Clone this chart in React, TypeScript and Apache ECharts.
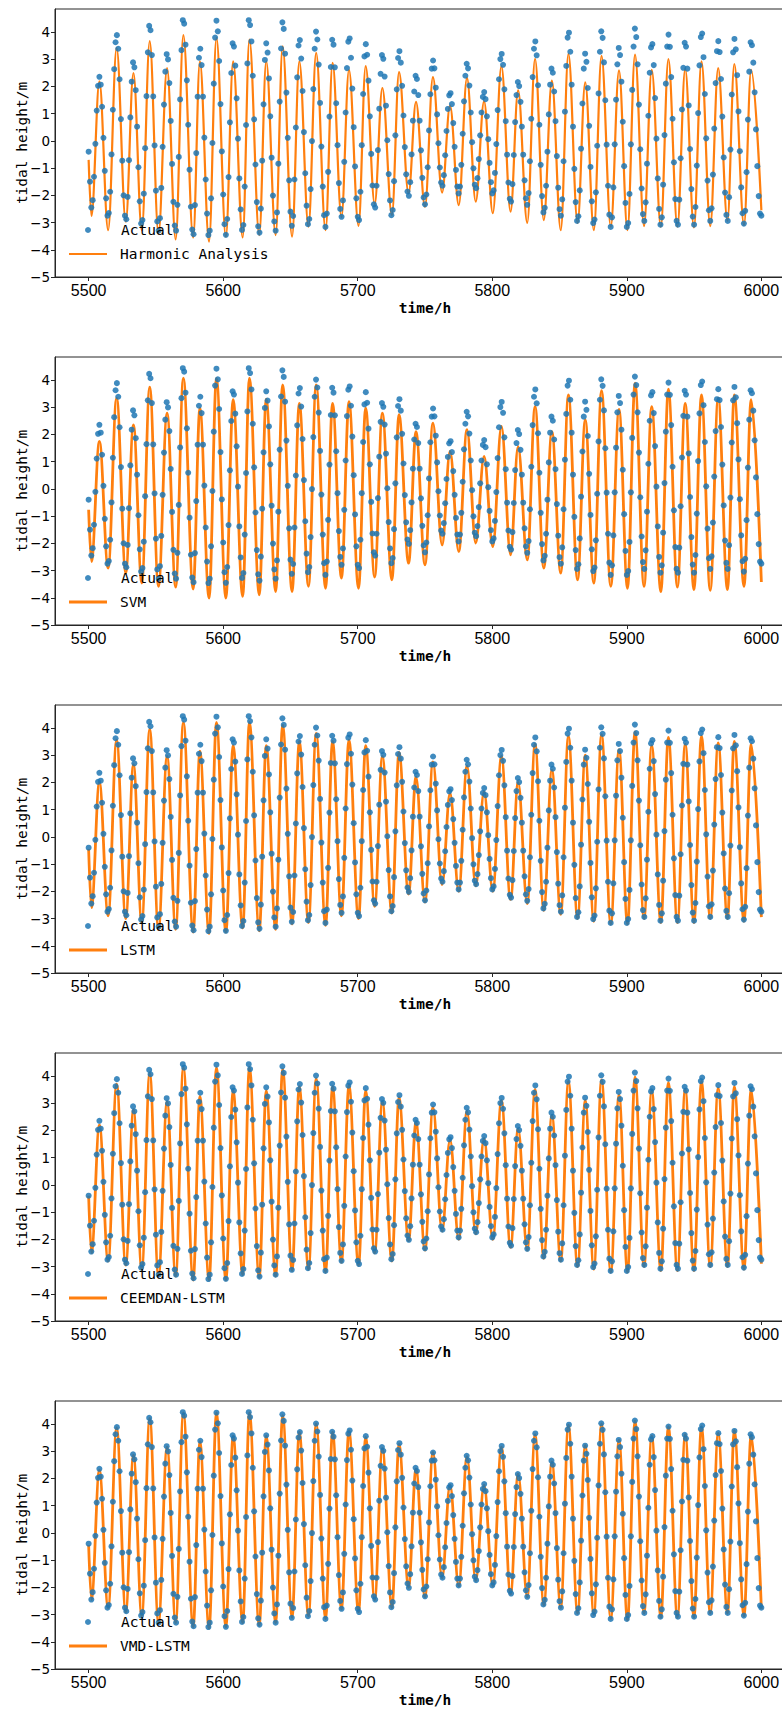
import React, { useEffect, useRef } from "react";
import * as echarts from "echarts";

// ---------- data ----------
const startHour = 5500;
const xTicks = [5500, 5600, 5700, 5800, 5900, 6000];
const yTicks = [-5, -4, -3, -2, -1, 0, 1, 2, 3, 4];

// Actual tidal height, hourly from 5500 h to 6000 h (m)
const actual = [
  -0.40, -1.50, -2.45, -2.18, -1.32, -0.11, 1.11, 2.02, 2.35, 2.06,
  1.25, 0.11, -1.10, -2.11, -2.75, -2.65, -1.87, -0.50, 1.14, 2.63,
  3.62, 3.88, 3.38, 2.26, 0.80, -0.73, -2.00, -2.75, -2.88, -2.06,
  -0.71, 0.86, 2.17, 2.88, 2.70, 1.86, 0.52, -0.97, -2.22, -3.04,
  -2.91, -1.94, -0.27, 1.64, 3.25, 4.22, 4.06, 3.15, 1.63, -0.17,
  -1.83, -2.96, -3.30, -2.84, -1.73, -0.22, 1.33, 2.54, 3.18, 2.99,
  2.12, 0.73, -0.85, -2.24, -3.11, -3.30, -2.35, -0.59, 1.52, 3.33,
  4.43, 4.30, 3.53, 2.22, 0.59, -1.06, -2.42, -3.26, -3.43, -2.36,
  -0.45, 1.62, 3.05, 3.38, 2.78, 1.62, 0.12, -1.42, -2.67, -3.46,
  -3.30, -2.11, -0.08, 2.10, 3.79, 4.41, 4.02, 2.93, 1.35, -0.39,
  -1.97, -3.06, -3.45, -2.87, -1.33, 0.68, 2.49, 3.58, 3.46, 2.76,
  1.56, 0.08, -1.38, -2.52, -3.27, -3.09, -1.68, 0.58, 2.84, 4.43,
  4.25, 3.65, 2.39, 0.79, -0.87, -2.25, -3.14, -3.37, -2.49, -0.73,
  1.34, 2.97, 3.58, 3.24, 2.29, 0.90, -0.62, -2.01, -2.96, -3.30,
  -2.63, -0.84, 1.44, 3.39, 4.35, 4.11, 3.20, 1.77, 0.11, -1.45,
  -2.60, -3.12, -2.76, -1.42, 0.49, 2.33, 3.50, 3.70, 3.02, 1.83,
  0.32, -1.19, -2.38, -3.06, -2.87, -1.77, -0.01, 1.90, 3.38, 4.01,
  3.72, 2.80, 1.39, -0.21, -1.68, -2.73, -3.16, -2.67, -1.14, 0.89,
  2.71, 3.71, 3.53, 2.70, 1.38, -0.16, -1.55, -2.50, -2.79, -2.19,
  -0.77, 1.04, 2.67, 3.64, 3.76, 3.05, 1.92, 0.50, -0.94, -2.11,
  -2.79, -2.91, -1.87, -0.16, 1.72, 3.10, 3.55, 3.16, 2.21, 0.90,
  -0.48, -1.64, -2.33, -2.45, -1.65, -0.34, 1.18, 2.46, 3.15, 3.01,
  2.36, 1.29, 0.02, -1.22, -2.19, -2.73, -2.54, -1.48, 0.20, 1.89,
  3.04, 3.29, 2.87, 2.02, 0.93, -0.23, -1.23, -1.86, -2.02, -1.52,
  -0.50, 0.74, 1.81, 2.39, 2.27, 1.68, 0.74, -0.35, -1.36, -2.08,
  -2.33, -1.97, -0.97, 0.38, 1.71, 2.65, 2.95, 2.66, 1.95, 0.97,
  -0.09, -0.98, -1.53, -1.65, -1.26, -0.53, 0.36, 1.17, 1.67, 1.75,
  1.35, 0.65, -0.22, -1.07, -1.68, -1.93, -1.68, -0.88, 0.26, 1.45,
  2.39, 2.83, 2.66, 2.03, 1.04, -0.05, -1.01, -1.61, -1.74, -1.37,
  -0.67, 0.20, 1.04, 1.61, 1.79, 1.53, 0.90, 0.06, -0.81, -1.52,
  -1.93, -1.82, -1.18, -0.12, 1.13, 2.26, 3.00, 3.19, 2.79, 1.89,
  0.72, -0.51, -1.53, -2.13, -2.23, -1.59, -0.52, 0.69, 1.68, 2.16,
  2.01, 1.43, 0.52, -0.51, -1.45, -2.11, -2.35, -1.92, -0.75, 0.81,
  2.34, 3.38, 3.65, 3.14, 2.04, 0.59, -0.88, -2.03, -2.63, -2.46,
  -1.65, -0.40, 0.97, 2.06, 2.65, 2.50, 1.81, 0.72, -0.56, -1.72,
  -2.51, -2.75, -2.15, -0.75, 1.07, 2.75, 3.79, 3.97, 3.27, 2.06,
  0.52, -1.03, -2.25, -2.94, -2.77, -1.82, -0.29, 1.37, 2.65, 3.20,
  2.90, 1.94, 0.55, -0.96, -2.22, -3.02, -2.89, -1.89, -0.18, 1.74,
  3.27, 4.02, 3.78, 2.88, 1.49, -0.14, -1.65, -2.71, -3.16, -2.81,
  -1.71, -0.13, 1.51, 2.81, 3.41, 3.15, 2.17, 0.70, -0.93, -2.28,
  -3.16, -3.02, -1.95, -0.13, 1.87, 3.46, 4.12, 3.81, 2.81, 1.33,
  -0.31, -1.75, -2.69, -2.94, -2.26, -0.84, 0.92, 2.50, 3.43, 3.55,
  2.78, 1.57, 0.08, -1.38, -2.50, -3.08, -2.81, -1.61, 0.21, 2.10,
  3.46, 3.90, 3.45, 2.34, 0.81, -0.79, -2.14, -2.94, -3.08, -2.16,
  -0.64, 1.15, 2.68, 3.60, 3.46, 2.65, 1.30, -0.30, -1.77, -2.78,
  -3.08, -2.43, -0.91, 1.02, 2.77, 3.81, 3.94, 3.07, 1.72, 0.09,
  -1.46, -2.55, -2.94, -2.48, -1.24, 0.45, 2.12, 3.29, 3.66, 3.26,
  2.27, 0.89, -0.61, -1.90, -2.72, -2.94, -2.07, -0.32, 1.70, 3.25,
  3.74, 3.36, 2.41, 1.08, -0.38, -1.71, -2.66, -3.04, -2.57, -1.15,
  0.78, 2.54, 3.62, 3.51, 2.87, 1.78, 0.42, -0.93, -2.03, -2.67,
  -2.75,
];

// Times (h) of the predicted curves' turning points (start, low/high pairs, end)
const turnTimes = [
  5500,
  5502.1, 5508.0, 5514.5, 5520.8, 5527.6, 5533.3, 5539.5, 5545.4, 5551.9, 5558.3,
  5564.7, 5570.4, 5577.7, 5582.7, 5589.5, 5595.0, 5602.0, 5607.4, 5614.5, 5619.5,
  5626.8, 5632.0, 5639.0, 5644.2, 5651.2, 5656.6, 5663.4, 5669.1, 5676.1, 5681.3,
  5687.9, 5693.5, 5700.6, 5705.9, 5712.6, 5718.3, 5725.4, 5730.7, 5737.8, 5743.3,
  5750.0, 5755.9, 5762.7, 5768.6, 5775.1, 5781.2, 5787.7, 5793.9, 5800.4, 5806.8,
  5813.6, 5819.2, 5826.0, 5831.8, 5838.3, 5844.3, 5850.9, 5856.6, 5863.4, 5869.1,
  5875.5, 5881.2, 5888.1, 5894.2, 5900.5, 5906.1, 5912.8, 5918.5, 5925.3, 5930.9,
  5937.6, 5943.4, 5949.9, 5955.5, 5962.0, 5967.9, 5974.8, 5979.9, 5987.1, 5992.4,
  6000,
];

const harmonicTurns = [
  -0.7,
  -2.76, 2.18, -3.28, 3.41, -2.97, 2.49, -3.28, 3.66, -3.40, 2.67,
  -3.62, 3.88, -3.55, 2.92, -3.70, 3.78, -3.52, 2.92, -3.55, 3.72,
  -3.46, 2.92, -3.46, 3.47, -3.52, 2.92, -3.15, 3.23, -3.28, 2.86,
  -2.79, 2.61, -3.12, 2.74, -2.32, 1.94, -2.72, 2.52, -1.93, 1.43,
  -2.42, 2.34, -1.90, 1.29, -2.36, 2.31, -2.23, 1.45, -2.66, 2.74,
  -2.60, 1.85, -3.01, 3.01, -2.91, 2.21, -3.28, 3.19, -3.01, 2.15,
  -3.28, 3.12, -3.15, 2.59, -3.28, 3.17, -3.13, 2.61, -3.15, 3.00,
  -3.15, 2.64, -3.18, 2.92, -3.13, 2.67, -2.93, 2.82, -3.09, 2.61,
  -2.55,
];

const svmTurns = [
  -0.77,
  -2.67, 1.74, -2.91, 3.33, -3.09, 2.35, -3.46, 3.73, -3.58, 2.78,
  -3.61, 4.06, -3.68, 2.96, -4.01, 4.05, -4.01, 3.27, -3.95, 4.06,
  -3.89, 3.29, -3.77, 3.82, -3.77, 3.14, -3.58, 3.82, -3.65, 3.14,
  -3.28, 3.20, -3.65, 2.96, -3.24, 2.78, -3.34, 2.72, -2.73, 2.10,
  -2.79, 2.41, -2.06, 1.37, -2.30, 2.17, -1.99, 1.19, -2.12, 2.29,
  -2.42, 1.55, -2.61, 3.02, -2.91, 2.10, -3.09, 3.45, -3.34, 2.53,
  -3.46, 3.60, -3.58, 2.92, -3.65, 3.88, -3.58, 3.02, -3.77, 3.66,
  -3.61, 3.14, -3.70, 3.45, -3.73, 3.33, -3.70, 3.45, -3.58, 3.27,
  -3.42,
];

const lstmTurns = [
  -0.45,
  -2.60, 2.00, -2.90, 3.55, -3.00, 2.65, -3.15, 3.95, -3.40, 2.95,
  -3.40, 4.20, -3.50, 3.15, -3.55, 4.20, -3.50, 3.35, -3.35, 4.20,
  -3.45, 3.35, -3.40, 4.10, -3.20, 3.50, -3.15, 3.80, -3.25, 3.50,
  -2.90, 3.55, -3.00, 3.35, -2.55, 2.95, -2.80, 3.10, -2.10, 2.20,
  -2.40, 2.75, -1.75, 1.60, -2.00, 2.60, -1.80, 1.65, -2.00, 2.95,
  -2.30, 2.00, -2.45, 3.40, -2.70, 2.45, -2.85, 3.70, -3.00, 3.00,
  -3.10, 3.75, -3.20, 3.20, -3.20, 3.85, -3.00, 3.35, -3.15, 3.65,
  -3.15, 3.40, -3.15, 3.70, -3.00, 3.45, -3.00, 3.50, -3.10, 3.40,
  -2.95,
];

const ceemdanTurns = [
  -0.40,
  -2.50, 2.20, -2.80, 3.70, -2.95, 2.75, -3.10, 4.10, -3.35, 3.05,
  -3.35, 4.30, -3.50, 3.25, -3.50, 4.30, -3.50, 3.45, -3.30, 4.30,
  -3.40, 3.45, -3.35, 4.25, -3.15, 3.60, -3.10, 3.90, -3.20, 3.60,
  -2.85, 3.65, -2.95, 3.45, -2.50, 3.05, -2.80, 3.20, -2.05, 2.30,
  -2.40, 2.85, -1.70, 1.65, -2.00, 2.70, -1.80, 1.70, -2.00, 3.10,
  -2.30, 2.05, -2.40, 3.50, -2.70, 2.55, -2.80, 3.80, -3.00, 3.10,
  -3.10, 3.85, -3.20, 3.30, -3.20, 3.95, -3.00, 3.45, -3.15, 3.75,
  -3.15, 3.50, -3.15, 3.80, -3.00, 3.55, -3.00, 3.60, -3.10, 3.50,
  -2.90,
];

const vmdTurns = [
  -0.45,
  -2.45, 2.30, -2.75, 3.85, -2.90, 2.85, -3.05, 4.20, -3.30, 3.15,
  -3.30, 4.40, -3.45, 3.35, -3.50, 4.40, -3.45, 3.55, -3.30, 4.40,
  -3.40, 3.55, -3.30, 4.30, -3.10, 3.70, -3.05, 4.00, -3.15, 3.70,
  -2.80, 3.75, -2.90, 3.50, -2.45, 3.10, -2.75, 3.25, -2.00, 2.35,
  -2.35, 2.95, -1.65, 1.75, -1.95, 2.80, -1.75, 1.75, -1.95, 3.15,
  -2.25, 2.15, -2.35, 3.60, -2.65, 2.60, -2.75, 3.95, -2.95, 3.20,
  -3.00, 4.00, -3.15, 3.40, -3.20, 4.10, -2.95, 3.55, -3.10, 3.90,
  -3.10, 3.60, -3.10, 3.90, -2.95, 3.65, -2.95, 3.75, -3.05, 3.60,
  -2.80,
];

const modelNames = ["Harmonic Analysis", "SVM", "LSTM", "CEEMDAN-LSTM", "VMD-LSTM"];
const modelTurns = [harmonicTurns, svmTurns, lstmTurns, ceemdanTurns, vmdTurns];

// ---------- styling ----------
const BLUE = "#1f77b4";
const ORANGE = "#ff7f0e";
const MONO = "'DejaVu Sans Mono', 'Liberation Mono', monospace";
const SANS = "'DejaVu Sans', sans-serif";
const XTICK_FONT = "'Liberation Sans', 'DejaVu Sans', sans-serif";
const lineWidths = [2.2, 2.8, 2.8, 2.8, 2.8];
const PLOT_LEFT = 55;
const PLOT_TOP = 9;
const PLOT_STEP = 348;
const PLOT_W = 740;
const PLOT_H = 268;

function minusFmt(v: number) {
  return v < 0 ? "\u2212" + Math.abs(v) : String(v);
}

function buildOption() {
  const grid: any[] = [];
  const xAxis: any[] = [];
  const yAxis: any[] = [];
  const series: any[] = [];
  const legend: any[] = [];

  modelNames.forEach((name, k) => {
    const top = PLOT_TOP + PLOT_STEP * k;
    grid.push({
      left: PLOT_LEFT,
      top,
      width: PLOT_W,
      height: PLOT_H,
      show: true,
      borderColor: "#262626",
      borderWidth: 1,
      backgroundColor: "transparent",
      containLabel: false,
      outerBoundsMode: "none",
    });
    xAxis.push({
      type: "value",
      gridIndex: k,
      min: 5475,
      max: 6025,
      axisLine: { show: true, onZero: false, lineStyle: { color: "#262626", width: 1 } },
      axisTick: { show: true, length: 4, customValues: xTicks, lineStyle: { color: "#262626" } },
      axisLabel: {
        customValues: xTicks,
        formatter: (v: number) => String(v),
        color: "#000",
        fontFamily: XTICK_FONT,
        fontSize: 16,
        margin: 5,
      },
      splitLine: { show: false },
      name: "time/h",
      nameLocation: "middle",
      nameGap: 23,
      nameMoveOverlap: false,
      nameTextStyle: { fontFamily: MONO, fontSize: 14.5, color: "#000", fontWeight: "bold" },
    });
    yAxis.push({
      type: "value",
      gridIndex: k,
      min: -5,
      max: 4.84,
      axisLine: { show: true, onZero: false, lineStyle: { color: "#262626", width: 1 } },
      axisTick: { show: true, length: 4, customValues: yTicks, lineStyle: { color: "#262626" } },
      axisLabel: {
        customValues: yTicks,
        formatter: minusFmt,
        color: "#000",
        fontFamily: SANS,
        fontSize: 13.5,
        margin: 5,
      },
      splitLine: { show: false },
      name: "tidal height/m",
      nameLocation: "middle",
      nameGap: 26,
      nameMoveOverlap: false,
      nameTextStyle: { fontFamily: MONO, fontSize: 14.5, color: "#000" },
    });

    series.push({
      type: "line",
      name,
      xAxisIndex: k,
      yAxisIndex: k,
      data: turnTimes.map((t, i) => [t, modelTurns[k][i]]),
      smooth: 0.36,
      smoothMonotone: "x",
      showSymbol: false,
      symbol: "none",
      color: ORANGE,
      itemStyle: { color: ORANGE },
      lineStyle: { color: ORANGE, width: lineWidths[k] },
      z: 2,
      silent: true,
      emphasis: { disabled: true },
    });
    series.push({
      type: "scatter",
      name: "Actual",
      xAxisIndex: k,
      yAxisIndex: k,
      data: actual.map((v, i) => [startHour + i, v]),
      symbol: "circle",
      symbolSize: 6,
      itemStyle: { color: BLUE, opacity: 0.85 },
      z: 3,
      silent: true,
      emphasis: { disabled: true },
    });

    const txt = (pad: number) => ({
      fontFamily: MONO,
      fontSize: 14.5,
      color: "#000",
      lineHeight: 16,
      padding: [0, 0, 0, pad],
    });
    legend.push({
      show: true,
      selectedMode: false,
      left: 85,
      top: top + 221 - 8,
      padding: 0,
      itemWidth: 6,
      itemHeight: 6,
      data: [{ name: "Actual", icon: "circle" }],
      textStyle: txt(25),
    });
    legend.push({
      show: true,
      selectedMode: false,
      left: 69,
      top: top + 245 - 8,
      padding: 0,
      itemWidth: 38,
      itemHeight: lineWidths[k],
      data: [{ name, icon: "rect" }],
      textStyle: txt(8),
    });
  });

  return {
    animation: false,
    backgroundColor: "#ffffff",
    grid,
    xAxis,
    yAxis,
    series,
    legend,
  };
}

export default function App() {
  const ref = useRef<HTMLDivElement>(null);
  useEffect(() => {
    if (!ref.current) return;
    const chart = echarts.init(ref.current, null, { renderer: "svg" });
    chart.setOption(buildOption() as any);
    return () => chart.dispose();
  }, []);
  return (
    <div
      ref={ref}
      style={{ position: "absolute", left: 0, top: 0, width: 782, height: 1710, background: "#fff" }}
    />
  );
}
